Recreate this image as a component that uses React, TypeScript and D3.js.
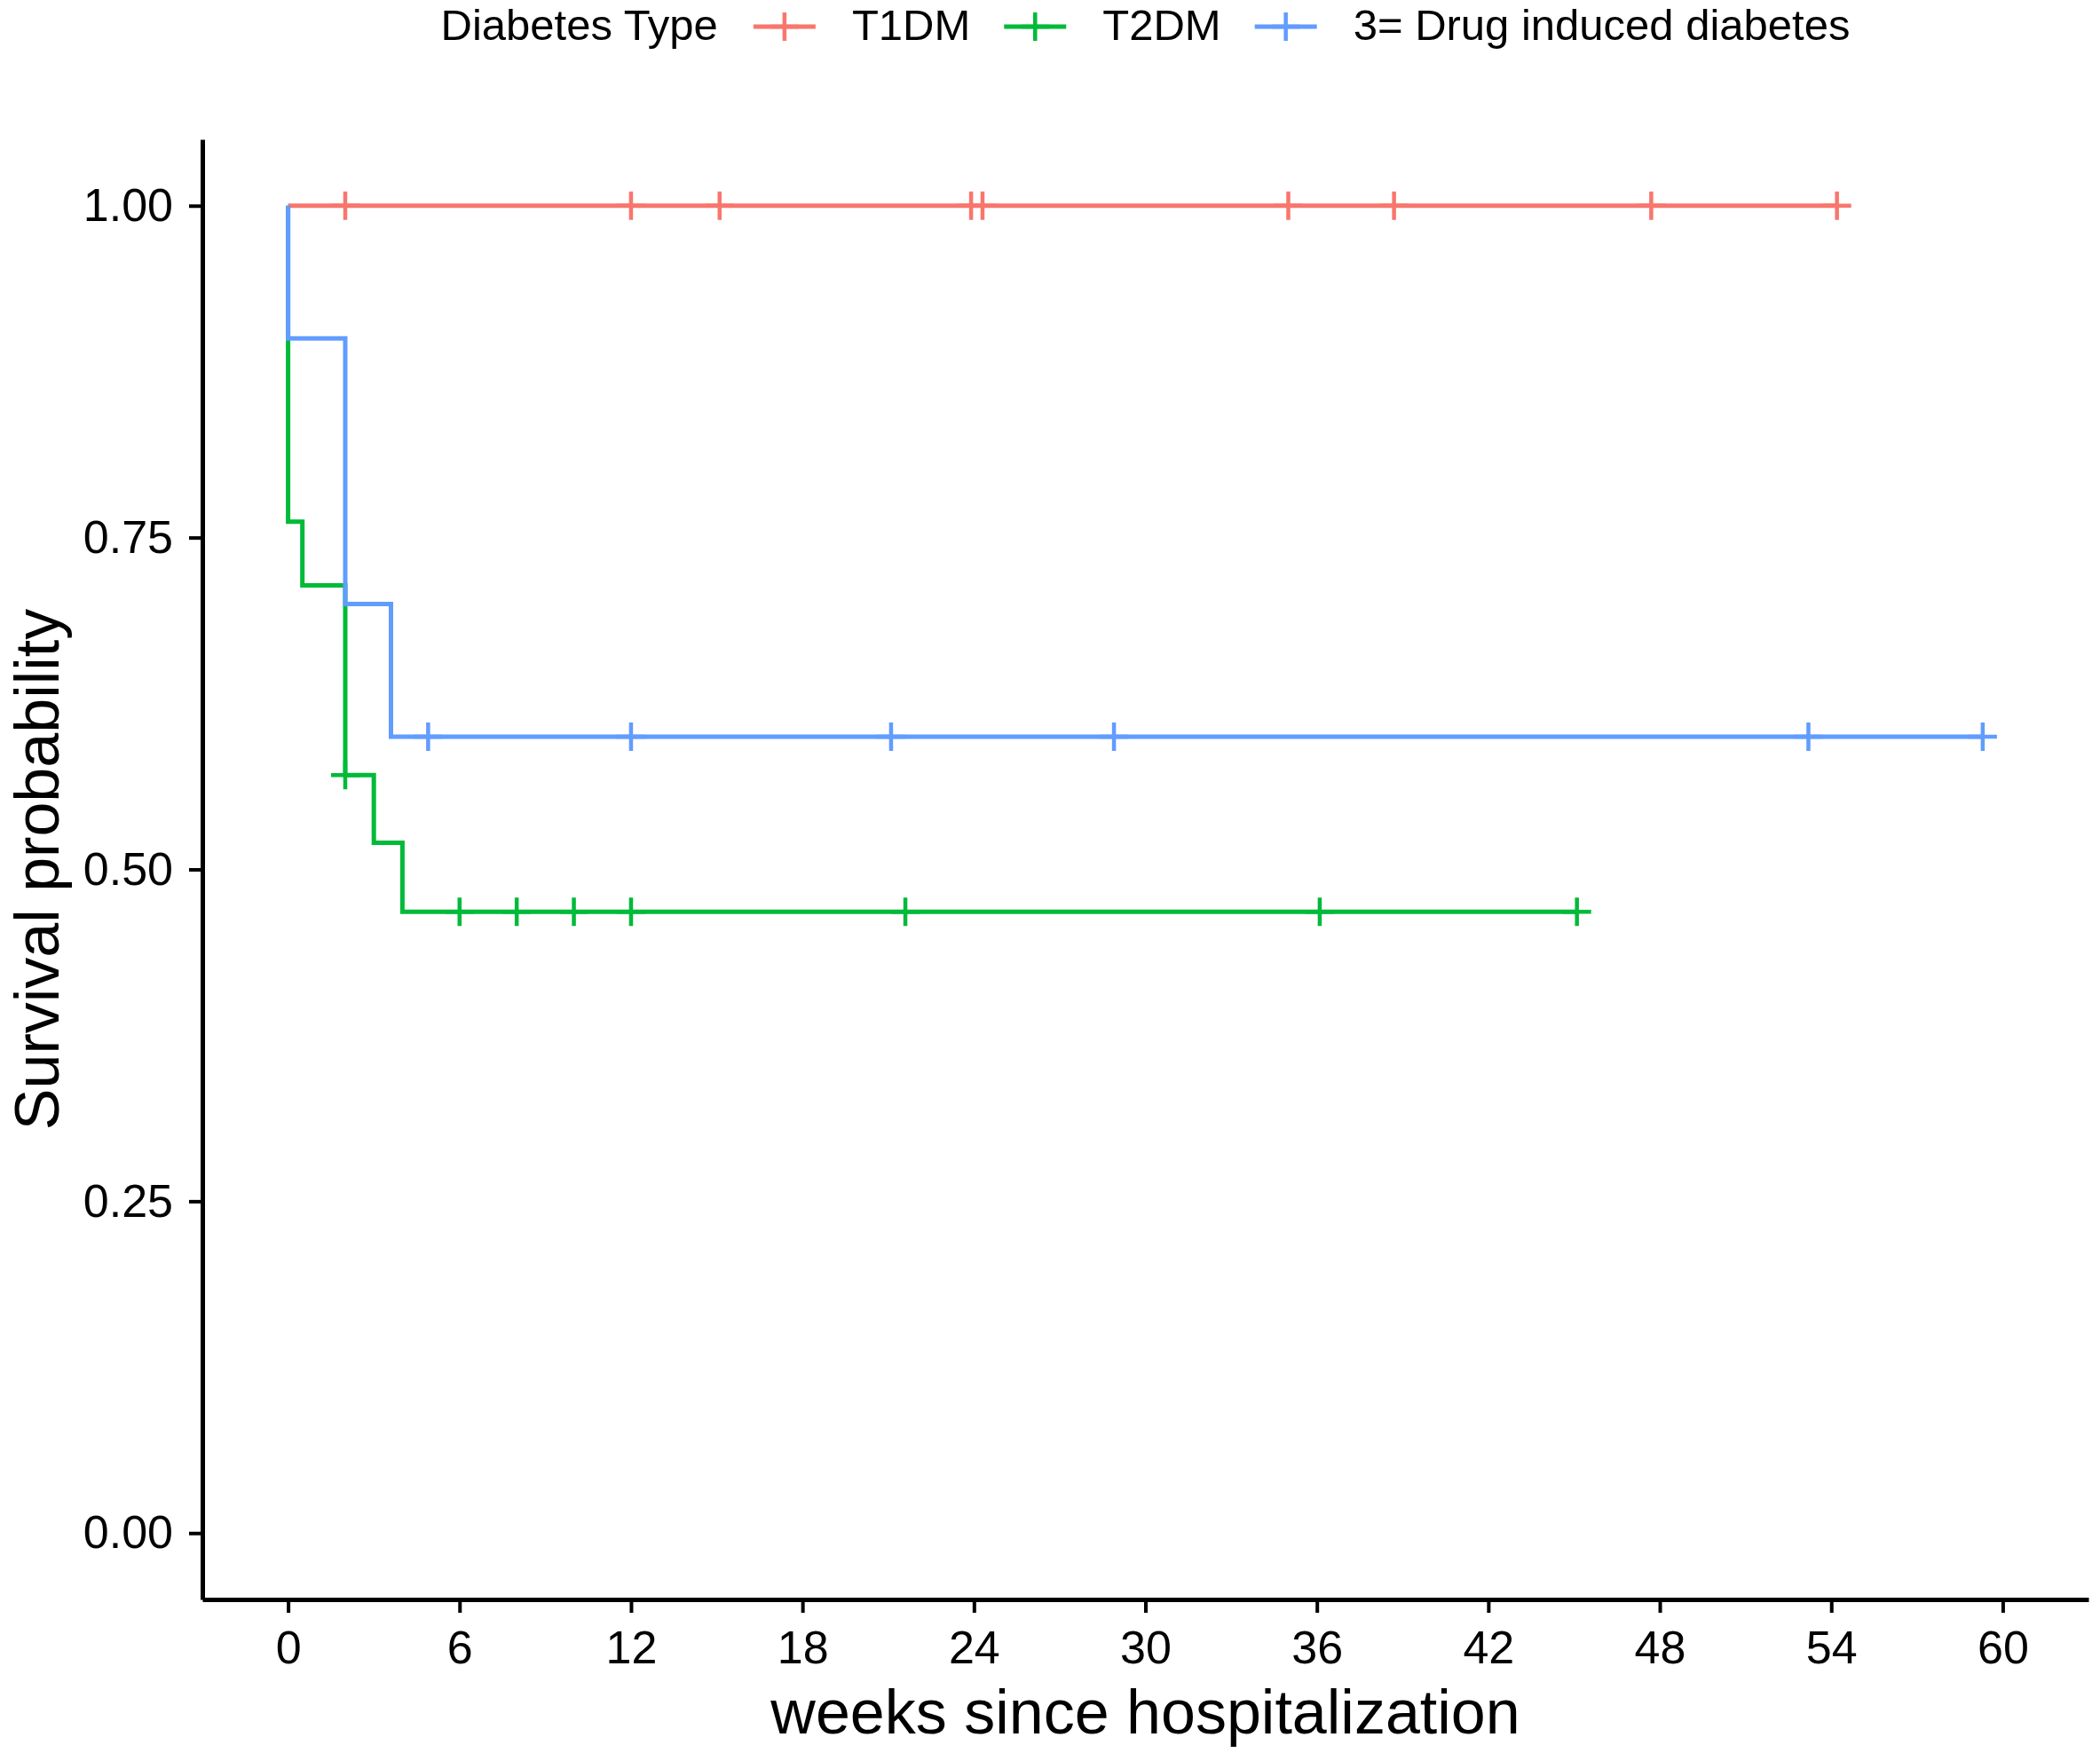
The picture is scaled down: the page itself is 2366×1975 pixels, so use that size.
import { useEffect, useRef } from "react";
import * as d3 from "d3";

const groups = ["T1DM", "T2DM", "3= Drug induced diabetes"];
const colors = ["#F8766D", "#00BA38", "#619CFF"];

// Kaplan-Meier steps (weeks, survival)
const t1dmTimes = [0, 54.2];
const t1dmSurv = [1, 1];
const t1dmCensor = [2, 12, 15.1, 23.9, 24.3, 35, 38.7, 47.7, 54.2];

const t2dmTimes = [0, 0, 0.5, 2, 3, 4, 45.1];
const t2dmSurv = [1, 0.762, 0.714, 0.571, 0.52, 0.468, 0.468];
const t2dmCensor = [2, 6, 8, 10, 12, 21.6, 36.1, 45.1];

const drugTimes = [0, 0, 2, 3.6, 59.3];
const drugSurv = [1, 0.9, 0.7, 0.6, 0.6];
const drugCensor = [4.9, 12, 21.1, 28.9, 53.2, 59.3];

const xTicks = [0, 6, 12, 18, 24, 30, 36, 42, 48, 54, 60];
const yTicks = [0, 0.25, 0.5, 0.75, 1];

const W = 2366;
const H = 1975;
const FONT = "'Liberation Sans', Arial, sans-serif";

const App = () => {
  const svgRef = useRef<SVGSVGElement | null>(null);

  useEffect(() => {
    document.body.style.margin = "0";
    d3.select(svgRef.current).selectAll("*").remove();

    const svg = d3
      .select(svgRef.current)
      .attr("width", W)
      .attr("height", H)
      .style("font-family", FONT);

    svg.append("rect").attr("width", W).attr("height", H).attr("fill", "#fff");

    const x = d3.scaleLinear().domain([-3, 63]).range([228, 2353]);
    const y = d3.scaleLinear().domain([-0.05, 1.05]).range([1802, 157]);

    const series = [
      { times: t1dmTimes, surv: t1dmSurv, censor: t1dmCensor },
      { times: t2dmTimes, surv: t2dmSurv, censor: t2dmCensor },
      { times: drugTimes, surv: drugSurv, censor: drugCensor },
    ];

    const line = d3
      .line<[number, number]>()
      .x((d) => x(d[0]))
      .y((d) => y(d[1]))
      .curve(d3.curveStepAfter);

    const survAt = (times: number[], surv: number[], t: number) => {
      let s = surv[0];
      times.forEach((tt, i) => {
        if (tt <= t) s = surv[i];
      });
      return s;
    };

    const arm = 16;
    const plus = (cx: number, cy: number) =>
      `M${cx - arm},${cy}H${cx + arm}M${cx},${cy - arm}V${cy + arm}`;

    series.forEach((s, i) => {
      const pts = s.times.map((t, j) => [t, s.surv[j]] as [number, number]);
      svg
        .append("path")
        .attr("d", line(pts))
        .attr("fill", "none")
        .attr("stroke", colors[i])
        .attr("stroke-width", 5);

      svg
        .append("g")
        .selectAll("path")
        .data(s.censor)
        .enter()
        .append("path")
        .attr("d", (t) => plus(x(t), y(survAt(s.times, s.surv, t))))
        .attr("stroke", colors[i])
        .attr("stroke-width", 4.5)
        .attr("fill", "none");
    });

    // axes
    const yAxis = svg
      .append("g")
      .attr("transform", `translate(${x(-3)},0)`)
      .call(
        d3
          .axisLeft(y)
          .tickValues(yTicks)
          .tickFormat(d3.format(".2f"))
          .tickSize(15)
          .tickSizeOuter(0)
          .tickPadding(18),
      );
    const xAxis = svg
      .append("g")
      .attr("transform", `translate(0,${y(-0.05)})`)
      .call(
        d3
          .axisBottom(x)
          .tickValues(xTicks)
          .tickFormat(d3.format("d"))
          .tickSize(15)
          .tickSizeOuter(0)
          .tickPadding(20),
      );

    [yAxis, xAxis].forEach((a) => {
      a.attr("font-family", FONT).attr("font-size", 52);
      a.select(".domain").attr("stroke", "#000").attr("stroke-width", 5);
      a.selectAll(".tick line").attr("stroke", "#000").attr("stroke-width", 4);
      a.selectAll(".tick text").attr("fill", "#000");
    });
    xAxis.selectAll(".tick text").attr("dy", "0.71em");

    const midX = (x(-3) + x(63)) / 2;
    const midY = (y(-0.05) + y(1.05)) / 2;

    svg
      .append("text")
      .attr("x", midX)
      .attr("y", 1953)
      .attr("text-anchor", "middle")
      .attr("font-size", 70)
      .attr("fill", "#000")
      .text("weeks since hospitalization");

    svg
      .append("text")
      .attr("transform", `translate(66,${midY}) rotate(-90)`)
      .attr("text-anchor", "middle")
      .attr("font-size", 70)
      .attr("fill", "#000")
      .text("Survival probability");

    // legend on top
    const legend = svg.append("g").attr("font-size", 49).attr("fill", "#000");
    let cx = 0;
    const title = legend.append("text").attr("x", cx).attr("y", 45).text("Diabetes Type");
    cx += (title.node() as SVGTextElement).getComputedTextLength() + 40;
    groups.forEach((g, i) => {
      legend
        .append("path")
        .attr("d", `M${cx},30H${cx + 70}`)
        .attr("stroke", colors[i])
        .attr("stroke-width", 5);
      legend
        .append("path")
        .attr("d", plus(cx + 35, 30))
        .attr("stroke", colors[i])
        .attr("stroke-width", 4.5);
      cx += 70 + 41;
      const lab = legend.append("text").attr("x", cx).attr("y", 45).text(g);
      cx += (lab.node() as SVGTextElement).getComputedTextLength() + 38;
    });
    const total = cx - 38;
    legend.attr("transform", `translate(${midX - total / 2},0)`);
  });

  return <svg ref={svgRef} />;
};

export default App;
